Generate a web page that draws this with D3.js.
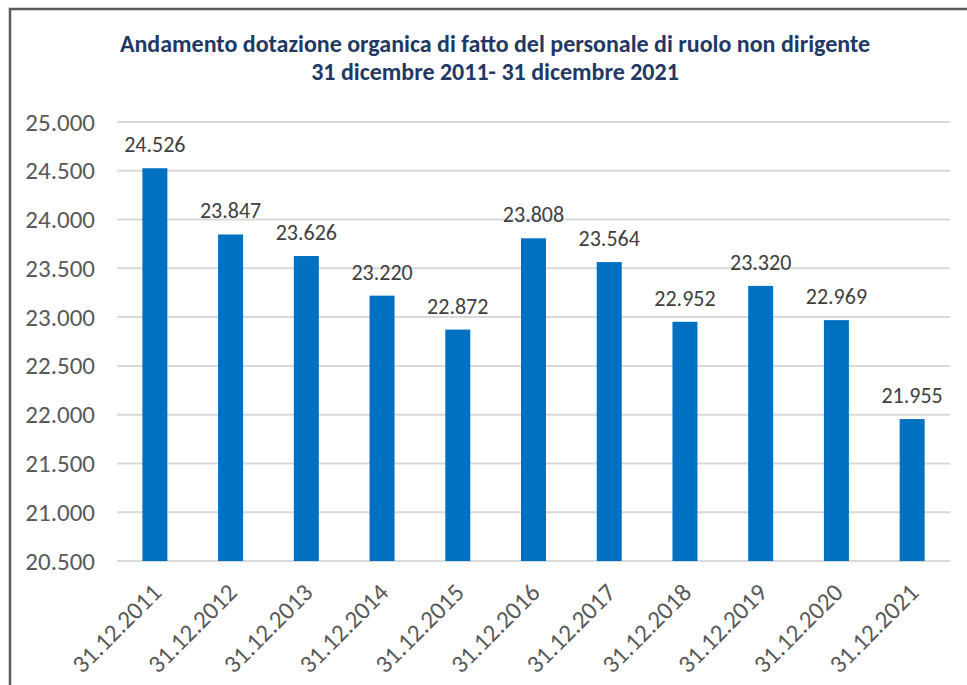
<!DOCTYPE html>
<html>
<head>
<meta charset="utf-8">
<script src="https://cdn.jsdelivr.net/npm/d3@7/dist/d3.min.js"></script>
<style>
  html, body { margin: 0; padding: 0; background: #fff; }
  svg { display: block; }
  text { font-family: Calibri, Carlito, "Liberation Sans", Arial, sans-serif; }
</style>
</head>
<body>
<svg id="chart" width="967" height="685"></svg>
<script>
// Personale di ruolo non dirigente, consistenza al 31 dicembre
const categories = ["31.12.2011", "31.12.2012", "31.12.2013", "31.12.2014", "31.12.2015",
                    "31.12.2016", "31.12.2017", "31.12.2018", "31.12.2019", "31.12.2020", "31.12.2021"];
const values = [24526, 23847, 23626, 23220, 22872, 23808, 23564, 22952, 23320, 22969, 21955];
const yTicks = [20500, 21000, 21500, 22000, 22500, 23000, 23500, 24000, 24500, 25000];
const titleLines = ["Andamento dotazione organica di fatto del personale di ruolo non dirigente",
                    "31 dicembre 2011- 31 dicembre 2021"];

const svg = d3.select("#chart");
const plot = { left: 117, right: 950, top: 122, bottom: 561 };
const FONT = "Calibri, Carlito, 'Liberation Sans', Arial, sans-serif";

const fmt = d3.format(",d");
const itFmt = v => fmt(v).replace(/,/g, ".");

// chart frame
svg.append("rect")
  .attr("x", 10).attr("y", 9)
  .attr("width", 975).attr("height", 700)
  .attr("fill", "#fff")
  .attr("stroke", "#5a5a5a").attr("stroke-width", 2.5);

// title
svg.append("g").selectAll("text")
  .data(titleLines)
  .join("text")
  .attr("x", 495)
  .attr("y", (d, i) => 52 + i * 28)
  .attr("text-anchor", "middle")
  .attr("font-size", 24)
  .attr("font-weight", "bold")
  .attr("fill", "#1f3864")
  .text(d => d);

const x = d3.scaleBand()
  .domain(categories)
  .range([plot.left, plot.right])
  .paddingInner(0.67)
  .paddingOuter(0.335);

const y = d3.scaleLinear()
  .domain([20500, 25000])
  .range([plot.bottom, plot.top]);

// horizontal gridlines
svg.append("g")
  .selectAll("line")
  .data(yTicks)
  .join("line")
  .attr("x1", plot.left).attr("x2", plot.right)
  .attr("y1", d => y(d)).attr("y2", d => y(d))
  .attr("stroke", "#d9d9d9").attr("stroke-width", 2);

// y axis labels
const yAxis = d3.axisLeft(y).tickValues(yTicks).tickFormat(itFmt).tickSize(0).tickPadding(22);
const gy = svg.append("g").attr("transform", `translate(${plot.left},0)`).call(yAxis);
gy.select(".domain").remove();
gy.selectAll("text")
  .attr("font-size", 25)
  .attr("fill", "#595959")
  .style("font-family", FONT);

// bars
svg.append("g")
  .selectAll("rect")
  .data(values)
  .join("rect")
  .attr("x", (d, i) => x(categories[i]))
  .attr("y", d => y(d))
  .attr("width", x.bandwidth())
  .attr("height", d => y(20500) - y(d))
  .attr("fill", "#0070c0");

// value labels
svg.append("g")
  .selectAll("text")
  .data(values)
  .join("text")
  .attr("x", (d, i) => x(categories[i]) + x.bandwidth() / 2)
  .attr("y", d => y(d) - 16)
  .attr("text-anchor", "middle")
  .attr("font-size", 22)
  .attr("fill", "#404040")
  .text(d => itFmt(d));

// x axis labels
const xAxis = d3.axisBottom(x).tickSize(0).tickPadding(0);
const gx = svg.append("g").attr("transform", `translate(0,${plot.bottom})`).call(xAxis);
gx.select(".domain").remove();
gx.selectAll("text")
  .attr("font-size", 25)
  .attr("fill", "#595959")
  .style("font-family", FONT)
  .attr("text-anchor", "end")
  .attr("y", 0)
  .attr("dy", null)
  .attr("transform", "translate(8,33) rotate(-45)");
</script>
</body>
</html>
